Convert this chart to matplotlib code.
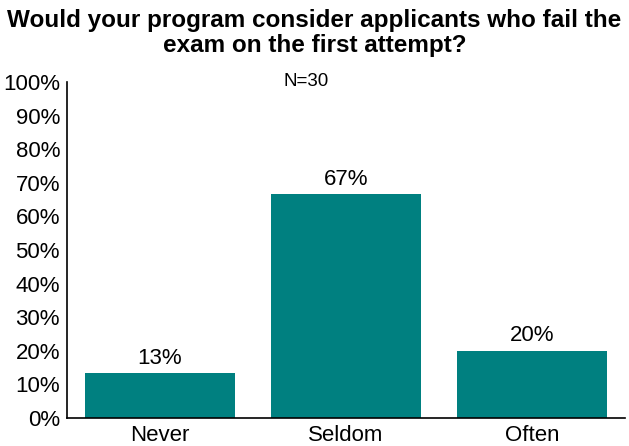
import matplotlib
matplotlib.use("Agg")
import matplotlib.pyplot as plt
from matplotlib.ticker import FuncFormatter, MultipleLocator

categories = ["Never", "Seldom", "Often"]
values = [13.3, 66.7, 20.0]
labels = ["13%", "67%", "20%"]
title = "Would your program consider applicants who fail the\nexam on the first attempt?"
note = "N=30"

plt.rcParams['font.family'] = ['Liberation Sans', 'DejaVu Sans']

fig = plt.figure(figsize=(6.29, 4.46), dpi=100)
ax = fig.add_axes([0.1065, 0.0628, 0.887, 0.7533])
x = range(len(categories))
bars = ax.bar(x, values, width=0.81, color="#008080")
for xi, v, lab in zip(x, values, labels):
    ax.text(xi, v + 1.3, lab, ha="center", va="bottom", fontsize=16)

ax.set_xlim(-0.5, 2.5)
ax.set_ylim(0, 100)
ax.yaxis.set_major_locator(MultipleLocator(10))
ax.yaxis.set_major_formatter(FuncFormatter(lambda v, p: f"{v:.0f}%"))
ax.set_xticks(list(x))
ax.set_xticklabels(categories)
ax.tick_params(axis="both", length=0, labelsize=16)
ax.tick_params(axis="y", pad=5)
ax.tick_params(axis="x", pad=5)
for s in ["top", "right"]:
    ax.spines[s].set_visible(False)
ax.spines["left"].set_linewidth(1.2)
ax.spines["bottom"].set_linewidth(1.2)

fig.text(0.5, 1.0 - 33.0 / 446, title, ha="center", va="center", fontsize=17.5,
         fontweight="bold", linespacing=1.06)
fig.text(0.487, 1.0 - 81.0 / 446, note, ha="center", va="center", fontsize=13.5)

fig.savefig("out.png", dpi=100)
